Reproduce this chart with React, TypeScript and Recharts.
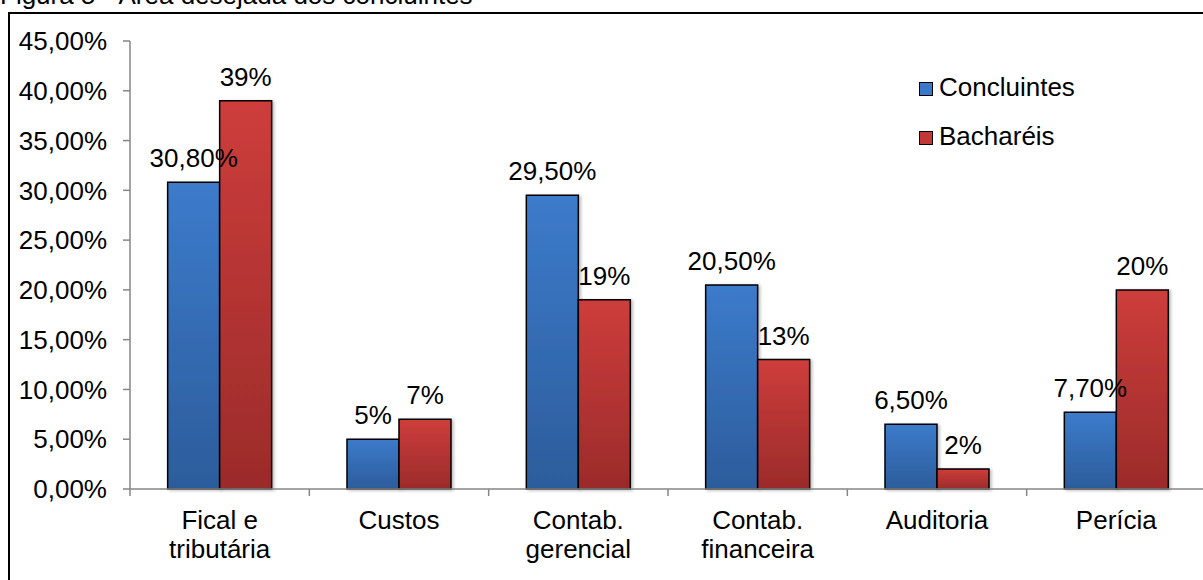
import React from 'react';
import { BarChart, Bar, XAxis, YAxis, Legend, LabelList } from 'recharts';

const categories = ['Fical e\ntributária', 'Custos', 'Contab.\ngerencial', 'Contab.\nfinanceira', 'Auditoria', 'Perícia'];
const concluintes = [30.8, 5, 29.5, 20.5, 6.5, 7.7];
const bachareis = [39, 7, 19, 13, 2, 20];
const seriesKeys = ['concluintes', 'bachareis'];
const yTicks = [0, 5, 10, 15, 20, 25, 30, 35, 40, 45];

const data = categories.map((name, i) => ({
  name,
  concluintes: concluintes[i],
  bachareis: bachareis[i],
}));

const FONT = '"Liberation Sans", Arial, sans-serif';
const AXIS = '#868686';
const CHART_W = 1210;
const CHART_H = 580;
const PLOT_LEFT = 130;
const PLOT_RIGHT = 1206;
const BAND = (PLOT_RIGHT - PLOT_LEFT) / categories.length;

const pct = (v: number) => v.toFixed(2).replace('.', ',') + '%';
const labelFmt = (v: any) => {
  const n = Number(v);
  return Number.isInteger(n) ? `${n}%` : pct(n);
};

function CategoryTick(props: any) {
  const { x, y, payload, index } = props;
  const lines = String(payload.value).split('\n');
  const left = x - BAND / 2;
  return (
    <g>
      <line x1={left} x2={left} y1={y} y2={y + 7} stroke={AXIS} strokeWidth={1.5} />
      {index === categories.length - 1 && (
        <line x1={x + BAND / 2} x2={x + BAND / 2} y1={y} y2={y + 7} stroke={AXIS} strokeWidth={1.5} />
      )}
      <text x={x} y={y + 40} textAnchor="middle" fontSize={26} fill="#000" fontFamily={FONT}>
        {lines.map((l, i) => (
          <tspan key={i} x={x} dy={i === 0 ? 0 : 29}>{l}</tspan>
        ))}
      </text>
    </g>
  );
}

function LegendBox(props: any) {
  const items = [...(props.payload || [])].sort(
    (a: any, b: any) => seriesKeys.indexOf(a.dataKey) - seriesKeys.indexOf(b.dataKey)
  );
  return (
    <div style={{ fontFamily: FONT, fontSize: 26, color: '#000' }}>
      {items.map((it: any) => (
        <div key={it.value} style={{ display: 'flex', alignItems: 'center', height: 49, lineHeight: '49px' }}>
          <span
            style={{
              display: 'inline-block',
              width: 12,
              height: 12,
              border: '1.5px solid #000',
              background: it.dataKey === 'concluintes' ? '#3a78c8' : '#c33836',
              marginRight: 6,
              marginTop: 3,
            }}
          />
          <span>{it.value}</span>
        </div>
      ))}
    </div>
  );
}

export default function App() {
  return (
    <div
      style={{
        position: 'absolute',
        left: 0,
        top: 0,
        width: 1203,
        height: 580,
        overflow: 'hidden',
        background: '#fff',
        fontFamily: FONT,
      }}
    >
      <div
        style={{
          position: 'absolute',
          left: 0,
          top: -18,
          fontSize: 26,
          lineHeight: '26px',
          whiteSpace: 'nowrap',
          color: '#000',
        }}
      >
        Figura 5 - Área desejada dos concluintes
      </div>
      <div
        style={{
          position: 'absolute',
          left: 8,
          top: 12,
          width: 1300,
          height: 700,
          border: '2px solid #000',
          boxSizing: 'border-box',
        }}
      />
      <div style={{ position: 'absolute', left: 0, top: 0 }}>
        <BarChart
          width={CHART_W}
          height={CHART_H}
          data={data}
          margin={{ top: 41, right: CHART_W - PLOT_RIGHT, left: PLOT_LEFT - 80, bottom: 0 }}
          barCategoryGap="21%"
          barGap={0}
          style={{ fontFamily: FONT }}
        >
          <defs>
            <linearGradient id="gBlue" x1="0" y1="0" x2="0" y2="1">
              <stop offset="0%" stopColor="#3c7bcb" />
              <stop offset="100%" stopColor="#2c5c9b" />
            </linearGradient>
            <linearGradient id="gRed" x1="0" y1="0" x2="0" y2="1">
              <stop offset="0%" stopColor="#cd3d3b" />
              <stop offset="100%" stopColor="#9b2b2a" />
            </linearGradient>
            <filter id="shadow" x="-10%" y="-10%" width="130%" height="130%">
              <feDropShadow dx="2" dy="1" stdDeviation="1.5" floodColor="#000" floodOpacity="0.25" />
            </filter>
          </defs>
          <XAxis
            dataKey="name"
            interval={0}
            height={91}
            tickSize={0}
            tickMargin={0}
            tickLine={false}
            axisLine={{ stroke: AXIS, strokeWidth: 1.5 }}
            tick={<CategoryTick />}
          />
          <YAxis
            width={80}
            domain={[0, 45]}
            ticks={yTicks}
            interval={0}
            tickFormatter={pct}
            tickSize={7}
            tickMargin={16}
            axisLine={{ stroke: AXIS, strokeWidth: 1.5 }}
            tickLine={{ stroke: AXIS, strokeWidth: 1.5 }}
            tick={{ fill: '#000', fontSize: 26, fontFamily: FONT }}
          />
          <Legend
            layout="vertical"
            align="center"
            verticalAlign="middle"
            content={<LegendBox />}
            wrapperStyle={{ position: 'absolute', left: 919, top: 63, width: 250 }}
          />
          <Bar
            dataKey="concluintes"
            name="Concluintes"
            fill="url(#gBlue)"
            stroke="#000"
            strokeWidth={1.5}
            filter="url(#shadow)"
            isAnimationActive={false}
          >
            <LabelList dataKey="concluintes" position="top" offset={15} formatter={labelFmt} fill="#000" fontSize={26} fontFamily={FONT} />
          </Bar>
          <Bar
            dataKey="bachareis"
            name="Bacharéis"
            fill="url(#gRed)"
            stroke="#000"
            strokeWidth={1.5}
            filter="url(#shadow)"
            isAnimationActive={false}
          >
            <LabelList dataKey="bachareis" position="top" offset={15} formatter={labelFmt} fill="#000" fontSize={26} fontFamily={FONT} />
          </Bar>
        </BarChart>
      </div>
    </div>
  );
}
